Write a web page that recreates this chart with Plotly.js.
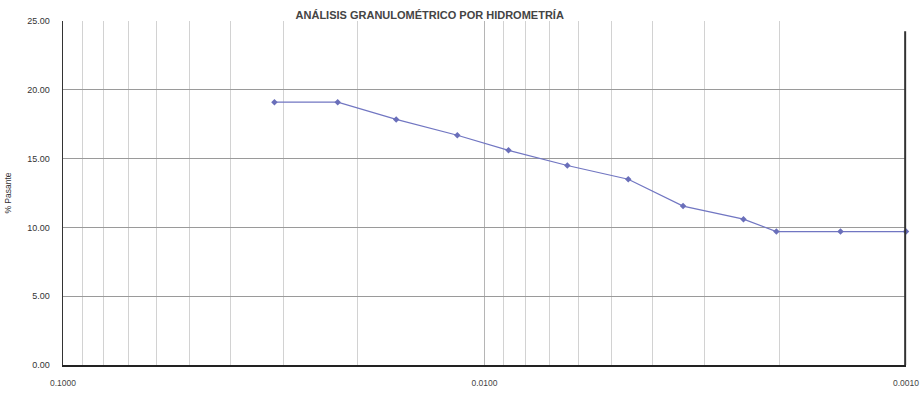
<!DOCTYPE html>
<html>
<head>
<meta charset="utf-8">
<script src="https://cdn.plot.ly/plotly-3.0.1.min.js"></script>
<style>html,body{margin:0;padding:0;background:#fff;overflow:hidden;width:922px;height:398px;}#chart{width:922px;height:398px;}</style>
</head>
<body>
<div id="chart"></div>
<script>
// Diámetro de partícula (mm) y % pasante
const diametros = [0.0315, 0.0223, 0.0162, 0.0116, 0.00877, 0.00636, 0.00456, 0.00338, 0.00243, 0.00203, 0.00143, 0.00100];
const pasante   = [19.1, 19.1, 17.85, 16.7, 15.6, 14.5, 13.5, 11.55, 10.6, 9.7, 9.7, 9.7];
const xTickVals = [0.1, 0.01, 0.001];
const xTickText = ["0.1000", "0.0100", "0.0010"];
const yTickVals = [0, 5, 10, 15, 20, 25];
const yTickText = ["0.00", "5.00", "10.00", "15.00", "20.00", "25.00"];

const trace = {
  x: diametros,
  y: pasante,
  type: 'scatter',
  mode: 'lines+markers',
  line: {color: '#7176c2', width: 1.2},
  marker: {symbol: 'diamond', size: 5, color: '#6a6fba'},
  showlegend: false,
  cliponaxis: false
};

const layout = {
  width: 922,
  height: 398,
  margin: {l: 63, r: 16, t: 21, b: 33},
  paper_bgcolor: '#ffffff',
  plot_bgcolor: '#ffffff',
  font: {family: 'Liberation Sans, Arial, sans-serif', size: 9, color: '#333'},
  title: {
    text: '<b>ANÁLISIS GRANULOMÉTRICO POR HIDROMETRÍA</b>',
    font: {family: 'Liberation Sans, Arial, sans-serif', size: 11, color: '#444'},
    xref: 'paper', x: 0.435, xanchor: 'center',
    yref: 'container', y: 0.962, yanchor: 'middle'
  },
  xaxis: {
    type: 'log',
    range: [-1, -3],
    tickvals: xTickVals,
    ticktext: xTickText,
    ticks: '',
    ticklabelstandoff: 9,
    showgrid: true,
    gridcolor: '#b5b5b5',
    gridwidth: 1,
    minor: {dtick: 'D1', showgrid: true, gridcolor: '#d2d2d2', gridwidth: 1, ticks: ''},
    showline: true,
    linecolor: '#222',
    linewidth: 1.5,
    zeroline: false,
    tickfont: {size: 8.5, color: '#444'}
  },
  yaxis: {
    range: [0, 25],
    tickvals: yTickVals,
    ticktext: yTickText,
    ticks: '',
    ticklabelstandoff: 10,
    showgrid: true,
    gridcolor: '#9a9a9a',
    gridwidth: 1,
    showline: true,
    linecolor: '#333',
    linewidth: 1.5,
    zeroline: false,
    tickfont: {size: 9, color: '#333'},
    title: {text: '% Pasante', font: {size: 8.5, color: '#333'}, standoff: 14}
  },
  shapes: [{
    type: 'line', xref: 'paper', yref: 'paper',
    x0: 0.999, x1: 0.999, y0: 0, y1: 0.97,
    line: {color: '#333', width: 2},
    layer: 'above'
  }]
};

Plotly.newPlot('chart', [trace], layout, {displayModeBar: false, staticPlot: true});
</script>
</body>
</html>
